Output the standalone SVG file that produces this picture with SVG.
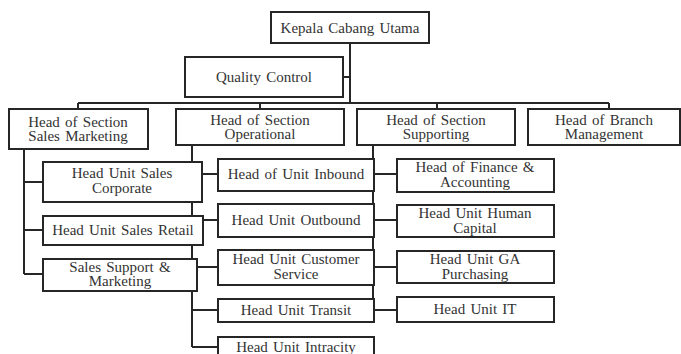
<svg xmlns="http://www.w3.org/2000/svg" width="681" height="354" viewBox="0 0 681 354">
<style>
.b{fill:#fff;stroke:#262626;stroke-width:2}
.c{fill:none;stroke:#262626;stroke-width:2}
text{font-family:"Liberation Serif","Times New Roman",serif;font-size:15px;fill:#333;text-anchor:middle;word-spacing:1.5px}
</style>
<rect width="681" height="354" fill="#fff"/>
<g id="connectors" class="c">
<path d="M350 43V103M343 77H350M78 103H609M78 103V109M260 103V109M437 103V109M609 103V109"/>
<path d="M24 149V274M24 182H43M24 230H43M24 274H43"/>
<path d="M192 145V347M192 174H218M192 220H218M192 267H218M192 310H218M192 347H218"/>
<path d="M373 145V310M373 174H397M373 220H397M373 267H397M373 310H397"/>
</g>
<g id="kepala"><rect class="b" x="271" y="12" width="158" height="31"/><text x="350" y="33">Kepala Cabang Utama</text></g>
<g id="qc"><rect class="b" x="185" y="57" width="158" height="40"/><text x="264" y="82">Quality Control</text></g>
<g id="hos-sales"><rect class="b" x="9" y="109" width="139" height="40"/><text x="78" y="127">Head of Section</text><text x="78" y="141">Sales Marketing</text></g>
<g id="hos-ops"><rect class="b" x="176" y="109" width="168" height="36"/><text x="260" y="125">Head of Section</text><text x="260" y="139">Operational</text></g>
<g id="hos-sup"><rect class="b" x="357" y="109" width="158" height="36"/><text x="436" y="125">Head of Section</text><text x="436" y="139">Supporting</text></g>
<g id="hob"><rect class="b" x="528" y="109" width="152" height="36"/><text x="604" y="125">Head of Branch</text><text x="604" y="139">Management</text></g>
<g id="sales-corp"><rect class="b" x="43" y="162" width="159" height="40"/><text x="122" y="178">Head Unit Sales</text><text x="122" y="193">Corporate</text></g>
<g id="sales-retail"><rect class="b" x="43" y="216" width="160" height="29"/><text x="123" y="235">Head Unit Sales Retail</text></g>
<g id="sales-support"><rect class="b" x="43" y="259" width="154" height="32"/><text x="120" y="272">Sales Support &amp;</text><text x="120" y="286">Marketing</text></g>
<g id="inbound"><rect class="b" x="218" y="159" width="156" height="32"/><text x="296" y="179">Head of Unit Inbound</text></g>
<g id="outbound"><rect class="b" x="218" y="204" width="156" height="33"/><text x="296" y="225">Head Unit Outbound</text></g>
<g id="cs"><rect class="b" x="218" y="250" width="156" height="35"/><text x="296" y="264">Head Unit Customer</text><text x="296" y="279">Service</text></g>
<g id="transit"><rect class="b" x="218" y="299" width="156" height="23"/><text x="296" y="315">Head Unit Transit</text></g>
<g id="intracity"><rect class="b" x="218" y="337" width="156" height="24"/><text x="296" y="352">Head Unit Intracity</text></g>
<g id="finance"><rect class="b" x="397" y="159" width="157" height="33"/><text x="475" y="172">Head of Finance &amp;</text><text x="475" y="187">Accounting</text></g>
<g id="hr"><rect class="b" x="397" y="205" width="157" height="32"/><text x="475" y="218">Head Unit Human</text><text x="475" y="233">Capital</text></g>
<g id="ga"><rect class="b" x="397" y="251" width="157" height="32"/><text x="475" y="264">Head Unit GA</text><text x="475" y="279">Purchasing</text></g>
<g id="it"><rect class="b" x="397" y="297" width="157" height="25"/><text x="475" y="314">Head Unit IT</text></g>
</svg>
